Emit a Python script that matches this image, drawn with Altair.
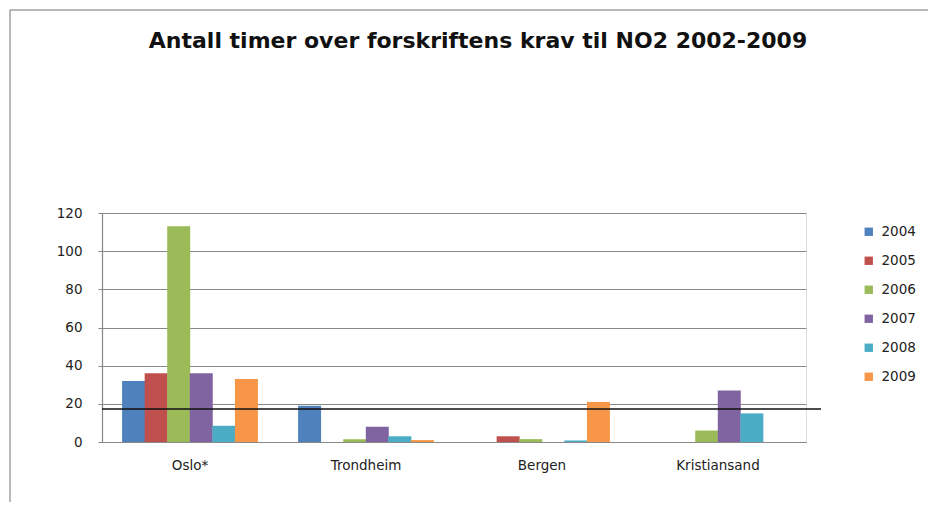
import altair as alt
import pandas as pd

cities = ["Oslo*", "Trondheim", "Bergen", "Kristiansand"]
years = ["2004", "2005", "2006", "2007", "2008", "2009"]
values = {
    "2004": [32, 19, 0, 0],
    "2005": [36, 0, 3, 0],
    "2006": [113, 1.5, 1.5, 6],
    "2007": [36, 8, 0, 27],
    "2008": [8.5, 3, 0.8, 15],
    "2009": [33, 1, 21, 0],
}
colors = ["#4F81BD", "#C0504D", "#9BBB59", "#8064A2", "#4BACC6", "#F79646"]
limit_line = [17.3]
y_ticks = [0, 20, 40, 60, 80, 100, 120]
title_text = "Antall timer over forskriftens krav til NO2 2002-2009"

rows = []
for y in years:
    for c, v in zip(cities, values[y]):
        rows.append({"By": c, "År": y, "Timer": v})
df = pd.DataFrame(rows)

W, H = 704, 229
FONT = "DejaVu Sans"
FS = 13.5

y_scale = alt.Scale(domain=[0, 120])
y_axis = alt.Axis(values=y_ticks, labelOverlap=False,
                  labelFont=FONT, labelFontSize=FS, labelColor="#222",
                  labelPadding=16, tickSize=4, tickColor="#888",
                  domainColor="#888", domainWidth=1.2,
                  gridColor="#888", gridWidth=1.2)

bars = alt.Chart(df).mark_bar(size=23).encode(
    x=alt.X("By:N", sort=cities, title=None,
            scale=alt.Scale(paddingInner=0.0, paddingOuter=0.0),
            axis=alt.Axis(labelAngle=0, labelFont=FONT, labelFontSize=FS,
                          labelColor="#222", labelPadding=16, ticks=False,
                          domainColor="#888", domainWidth=1.2, grid=False)),
    xOffset=alt.XOffset("År:N", sort=years,
                        scale=alt.Scale(paddingInner=0.0, paddingOuter=0.9)),
    y=alt.Y("Timer:Q", title=None, scale=y_scale, axis=y_axis),
    color=alt.Color("År:N", sort=years,
                    scale=alt.Scale(domain=years, range=colors),
                    legend=alt.Legend(title=None, orient="none",
                                      legendX=760, legendY=12,
                                      symbolType="square", symbolSize=70,
                                      symbolStrokeWidth=0, labelOffset=6,
                                      labelFont=FONT, labelFontSize=FS,
                                      labelColor="#222", rowPadding=14)),
)

rule = alt.Chart(pd.DataFrame({"grense": limit_line})).mark_rule(
    color="#111", strokeWidth=1.5
).encode(
    y=alt.Y("grense:Q", title=None, scale=y_scale, axis=y_axis),
    x=alt.value(0),
    x2=alt.value(W + 15),
)

title = alt.Chart(pd.DataFrame({"t": [title_text]})).mark_text(
    font="DejaVu Sans", fontSize=22, fontWeight="bold", color="#111",
    align="center", baseline="middle"
).encode(text="t:N", x=alt.value(376), y=alt.value(-172))

frame_left = alt.Chart(pd.DataFrame({"a": [0]})).mark_rule(
    color="#a0a0a0", strokeWidth=1.5
).encode(x=alt.value(-92), y=alt.value(-203), y2=alt.value(300))
frame_top = alt.Chart(pd.DataFrame({"a": [0]})).mark_rule(
    color="#a0a0a0", strokeWidth=1.5
).encode(x=alt.value(-92), x2=alt.value(840), y=alt.value(-203))

chart = alt.layer(bars, rule, title, frame_left, frame_top).properties(
    width=W, height=H,
    autosize=alt.AutoSizeParams(type="none"),
    padding={"left": 94, "top": 205, "right": 122, "bottom": 60},
).configure_view(stroke=None).configure(background="white")

chart.save("out.html", embed_options={"renderer": "svg", "actions": False})
